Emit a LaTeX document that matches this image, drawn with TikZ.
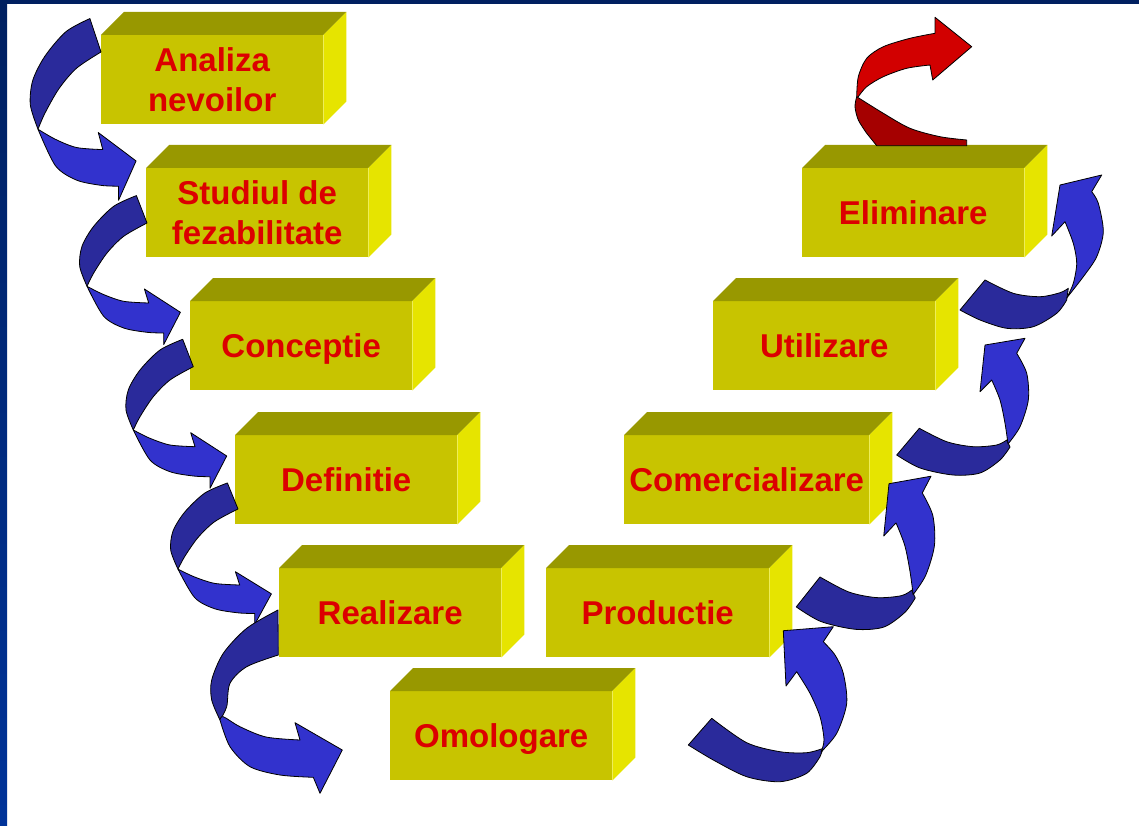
\documentclass[tikz,border=0pt]{standalone}
\usepackage{fontspec}
\setmainfont{Liberation Sans}
\usetikzlibrary{calc}
\definecolor{frontc}{RGB}{200,196,0}
\definecolor{topc}{RGB}{152,152,0}
\definecolor{sidec}{RGB}{230,228,0}
\definecolor{txtc}{RGB}{220,0,0}
\definecolor{dkb}{RGB}{42,42,155}
\definecolor{ltb}{RGB}{50,50,205}
\definecolor{dkr}{RGB}{165,0,0}
\definecolor{ltr}{RGB}{210,0,0}
\definecolor{navyc}{RGB}{0,32,96}
\definecolor{bbluec}{RGB}{0,51,153}
\newcommand\stage[6]{% name, x, y, width, text, extra
  \node[stagebox, minimum width=#4pt, #6] (#1) at (#2,#3) {#5};
  \fill[topc] (#1.north west) -- ++(23,-23) -- ($(#1.north east)+(23,-23)$) -- (#1.north east) -- cycle;
  \fill[sidec] (#1.north east) -- ++(23,-23) -- ($(#1.south east)+(23,-23)$) -- (#1.south east) -- cycle;
}
\newcommand\lshape{%
  \filldraw[dk] plot[smooth] coordinates {(-10.6,-27.4) (-33.3,-16.7) (-53.3,3.3) (-65,23.3) (-67.3,43.3) (-60,63.3)}
     -- plot[smooth] coordinates {(-60,63.3) (-53.3,50) (-40,30) (-23.3,13.3) (0,0)} -- cycle;
  \filldraw[lt] plot[smooth] coordinates {(-60,63.3) (-43.3,71.6) (-23.3,78.3) (1.7,80)}
     -- (-2.6,66) -- (33.4,89.3) -- (16.7,121.6)
     -- plot[smooth] coordinates {(16.7,110) (0,109.3) (-23.3,105) (-43.3,93.3) (-60,63.3)} -- cycle;
}
% right ascending arrow, origin at the inner tail corner
\newcommand\rshape{%
  \filldraw[dk] plot[smooth] coordinates {(0,0) (27.4,13.4) (54,18.4) (77.4,16.7) (87.4,11.7)}
     -- plot[smooth] coordinates {(90.7,18.7) (80.7,31.7) (60.7,44.7) (33.7,46.7) (0.7,39.7) (-22.6,26.7)} -- cycle;
  \filldraw[lt] plot[smooth] coordinates {(88.7,15.7) (100.7,-1.6) (109,-28.3) (107.4,-55) (97.4,-75)}
     -- (105.7,-90) -- (65.7,-83.3) -- (60.7,-36.6)
     -- plot[smooth] coordinates {(72.4,-48.3) (80.7,-28.3) (85.7,-5) (88.7,15.7)} -- cycle;
}
\begin{document}
\begin{tikzpicture}[x=1pt,y=-1pt,
  stagebox/.style={rectangle, fill=frontc, inner sep=0pt, minimum height=89pt,
    anchor=north west, text=txtc, font=\fontsize{33}{40}\selectfont\bfseries, align=center},
  oneline/.style={text height=23.6pt, text depth=0pt},
  dk/.style={fill=dkb, draw=black, line width=0.8pt, line join=round},
  lt/.style={fill=ltb, draw=black, line width=0.8pt, line join=round},
  dkred/.style={fill=dkr, draw=black, line width=0.8pt, line join=round},
  ltred/.style={fill=ltr, draw=black, line width=0.8pt, line join=round},
]
\useasboundingbox (0,0) rectangle (1139,826);
\fill[white] (0,0) rectangle (1139,826);
\shade[top color=navyc, bottom color=bbluec] (0,0) rectangle (7,826);
\fill[navyc] (0,0) rectangle (1139,4);

\stage{s1}{101}{35}{222}{Analiza\\nevoilor}{}
\stage{s2}{146}{168}{222}{Studiul de\\fezabilitate}{}
\stage{s3}{190}{301}{222}{Conceptie}{oneline}
\stage{s4}{235}{435}{222}{Definitie}{oneline}
\stage{s5}{279}{568}{222}{Realizare}{oneline}
\stage{s6}{390}{691}{222}{Omologare}{oneline}
\stage{s7}{546}{568}{223}{Productie}{oneline}
\stage{s8}{624}{435}{245}{Comercializare}{oneline}
\stage{s9}{713}{301}{222}{Utilizare}{oneline}
\stage{s10}{802}{168}{222}{Eliminare}{oneline}

% left descending arrows
\begin{scope}[shift={(101,52)}, xscale=1.05, yscale=1.22]\lshape\end{scope}
\begin{scope}[shift={(147,223)}]\lshape\end{scope}
\begin{scope}[shift={(193.3,366.7)}]\lshape\end{scope}
\begin{scope}[shift={(238,509)}, yscale=0.95]\lshape\end{scope}

% Realizare -> Omologare
\filldraw[dk] plot[smooth] coordinates {(278,610) (246.7,628.3) (223.3,653.3) (211.7,680) (211.7,700) (220,720)}
   -- plot[smooth] coordinates {(220,720) (226.7,706.7) (230,683.3) (246.7,666.7) (278.3,655)} -- cycle;
\filldraw[lt] plot[smooth] coordinates {(220,720) (230,746.7) (250,766.7) (280,775) (313.3,777.3)}
   -- (320,793.3) -- (342.3,750) -- (295,722.7)
   -- plot[smooth] coordinates {(300,740) (266,737) (240,726.7) (223.3,716.7) (220,720)} -- cycle;

% Omologare -> Productie
\filldraw[dk] plot[smooth] coordinates {(711.7,718.3) (746.7,742.7) (780,751.7) (806.7,752.7) (823.3,748.3)}
   -- plot[smooth] coordinates {(820,756.7) (806.7,773.3) (780,781.7) (746.7,776.7) (713.3,760) (688.3,745)} -- cycle;
\filldraw[lt] plot[smooth] coordinates {(821,752) (836.7,733.3) (846.7,703.3) (843.3,673.3) (835,655) (823.3,641.7)}
   -- (833.3,626.7) -- (783.3,630.7) -- (786,686)
   -- plot[smooth] coordinates {(796.7,671.7) (810,693.3) (820,716.7) (824,740) (821,752)} -- cycle;

% Productie -> Comercializare
\begin{scope}[shift={(820,577)}, xscale=1.05, yscale=1.12]\rshape\end{scope}
% Comercializare -> Utilizare
\begin{scope}[shift={(919.3,428.3)}]\rshape\end{scope}

% Utilizare -> Eliminare
\filldraw[dk] plot[smooth] coordinates {(985,280) (1013.3,293.3) (1040,296.7) (1060,292.7) (1068.3,288.3)}
   -- plot[smooth] coordinates {(1066.7,300) (1056.7,313.3) (1033.3,326.7) (1006.7,328.3) (980,320) (960,310)} -- cycle;
\filldraw[lt] plot[smooth] coordinates {(1066.7,298) (1083.3,276.7) (1096.7,256.7) (1103.3,231.7) (1098.3,203.3) (1091.7,191.7)}
   -- (1101.7,175) -- (1060,185) -- (1051.7,236)
   -- plot[smooth] coordinates {(1065,221.7) (1073.3,243.3) (1076.7,263.3) (1073.3,283.3) (1066.7,298)} -- cycle;

% Eliminare -> out (red)
\filldraw[dkred] plot[smooth] coordinates {(856.7,96.7) (883.3,113.3) (910,128.3) (940,136.7) (966.7,140)}
   -- (966.7,145.7) -- (876.7,145.7)
   -- plot[smooth] coordinates {(866.7,133.3) (858.3,120) (855,106.7) (856.7,96.7)} -- cycle;
\filldraw[ltred] plot[smooth] coordinates {(856.7,96.7) (858.3,76.7) (866.7,58.3) (883.3,46.7) (910,38.3) (935,33.3)}
   -- (935,17.3) -- (971.7,46.7) -- (932.7,80)
   -- plot[smooth] coordinates {(930,65) (906.7,68.3) (883.3,76.7) (866.7,86.7) (858.3,96.7)} -- cycle;
\end{tikzpicture}
\end{document}
